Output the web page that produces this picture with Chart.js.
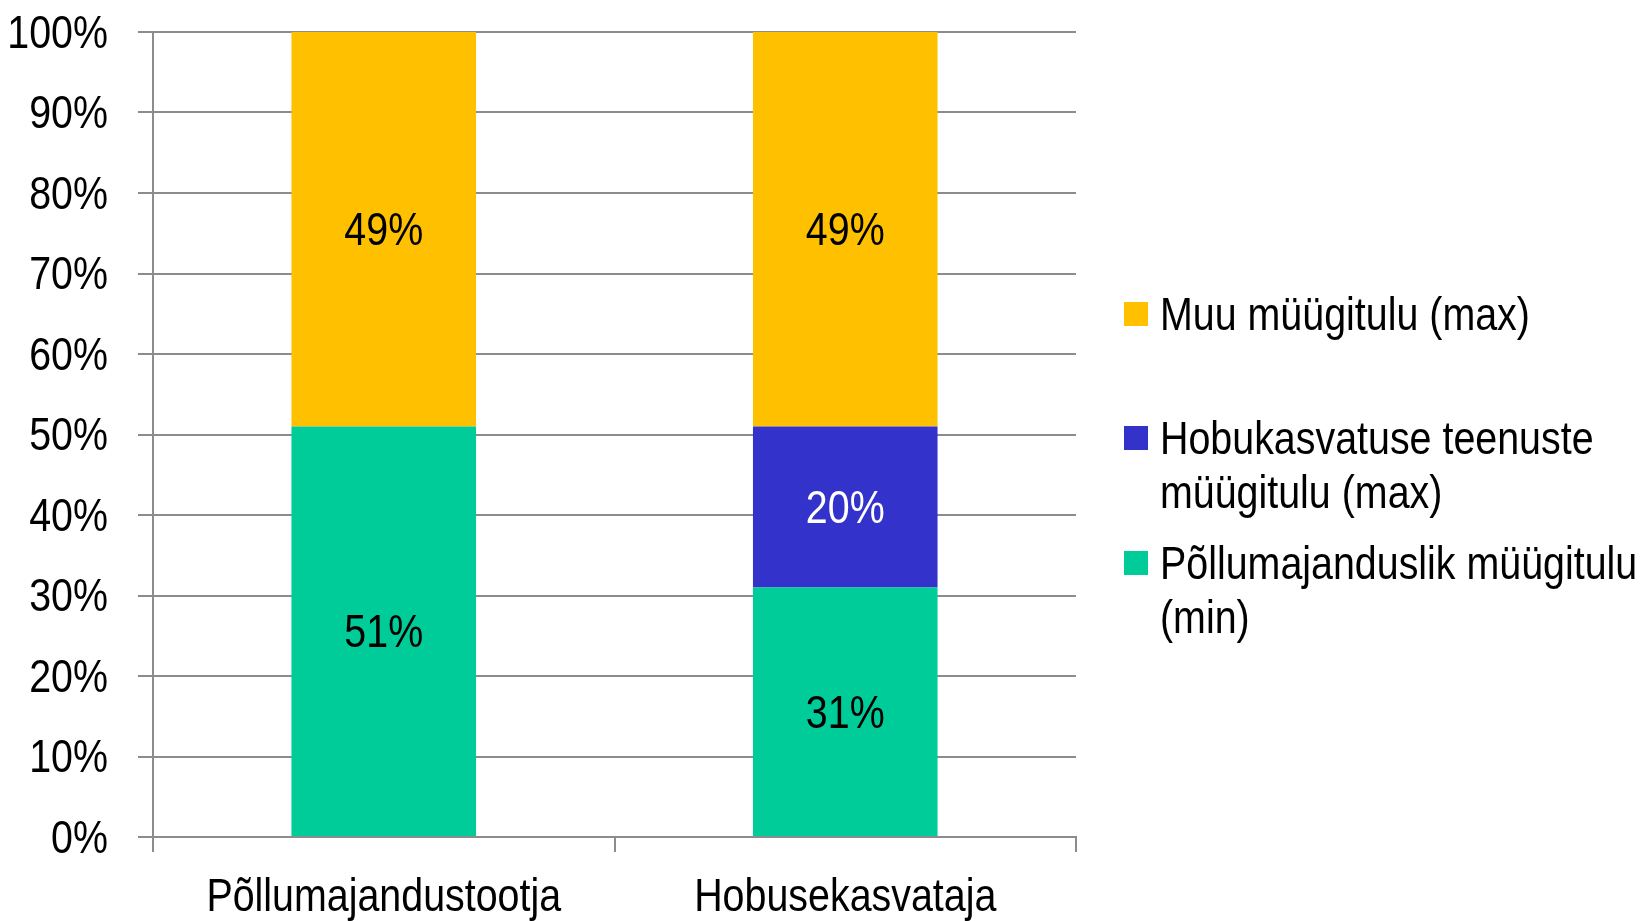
<!DOCTYPE html>
<html>
<head>
<meta charset="utf-8">
<script src="https://cdn.jsdelivr.net/npm/chart.js@4"></script>
<style>
    html, body { margin: 0; padding: 0; background: #fff; }
    #wrap { width: 1641px; height: 921px; }
</style>
</head>
<body>
<div id="wrap"><canvas id="incomeChart" width="1641" height="921"></canvas></div>
<script>
// Chart data
const categories = ['Põllumajandustootja', 'Hobusekasvataja'];
const agriValues = [51, 31];
const horseValues = [0, 20];
const otherValues = [49, 49];
const seriesLabels = [
    'Põllumajanduslik müügitulu (min)',
    'Hobukasvatuse teenuste müügitulu (max)',
    'Muu müügitulu (max)',
];
const legendLines = [
    ['Muu müügitulu (max)'],
    ['Hobukasvatuse teenuste', 'müügitulu (max)'],
    ['Põllumajanduslik müügitulu', '(min)'],
];
const yTicks = [0, 10, 20, 30, 40, 50, 60, 70, 80, 90, 100];

// No narrow font is installed, so text is squeezed horizontally by hand
const FONT = '"Liberation Sans", Arial, sans-serif';
const FONT_SIZE = 47;
const NARROW = 0.838;
const GRID = '#8c8c8c';
const colors = ['#00CC99', '#3333CC', '#FFC000'];
const labelColors = ['#000', '#fff', '#000'];

function narrowText(ctx, text, x, y, align, color) {
    ctx.save();
    ctx.translate(x, y + 3);
    ctx.scale(NARROW, 1);
    ctx.font = `${FONT_SIZE}px ${FONT}`;
    ctx.textAlign = align;
    ctx.textBaseline = 'middle';
    ctx.fillStyle = color;
    ctx.fillText(text, 0, 0);
    ctx.restore();
}

// Axis tick labels, placed from the chart scales
const axisLabels = {
    id: 'axisLabels',
    afterDraw(chart) {
        const ctx = chart.ctx;
        const { x, y } = chart.scales;
        y.ticks.forEach((t) => {
            narrowText(ctx, `${t.value}%`, y.right - 15 - 30, y.getPixelForValue(t.value), 'right', '#000');
        });
        categories.forEach((c, i) => {
            narrowText(ctx, c, x.getPixelForValue(i), x.top + 58, 'center', '#000');
        });
    },
};

// Value labels inside the bars
const barLabels = {
    id: 'barLabels',
    afterDatasetsDraw(chart) {
        const ctx = chart.ctx;
        chart.data.datasets.forEach((ds, i) => {
            const meta = chart.getDatasetMeta(i);
            meta.data.forEach((bar, j) => {
                const v = ds.data[j];
                if (!v) return;
                narrowText(ctx, `${v}%`, bar.x, (bar.y + bar.base) / 2, 'center', labelColors[i]);
            });
        });
    },
};

// Legend on the right, Excel style with wrapped lines
const sideLegend = {
    id: 'sideLegend',
    afterDraw(chart) {
        const ctx = chart.ctx;
        const firstLine = [314, 438, 563];
        const lineH = 54;
        const order = [2, 1, 0];
        order.forEach((dsIndex, k) => {
            const y0 = firstLine[k];
            ctx.fillStyle = colors[dsIndex];
            ctx.fillRect(1124, y0 - 12, 24, 24);
            legendLines[k].forEach((line, n) => {
                narrowText(ctx, line, 1160, y0 + n * lineH, 'left', '#000');
            });
        });
    },
};

document.addEventListener('DOMContentLoaded', () => {
    initChart();
});

function initChart() {
    const ctx = document.getElementById('incomeChart');
    new Chart(ctx.getContext('2d'), {
        type: 'bar',
        data: {
            labels: categories,
            datasets: [agriValues, horseValues, otherValues].map((vals, i) => ({
                label: seriesLabels[i],
                data: vals,
                backgroundColor: colors[i],
                barPercentage: 0.4,
                categoryPercentage: 1,
            })),
        },
        options: {
            responsive: false,
            animation: false,
            layout: { padding: { top: 32, right: 565, left: 0, bottom: 0 } },
            plugins: {
                legend: { display: false },
                tooltip: { enabled: false },
            },
            scales: {
                x: {
                    stacked: true,
                    grid: { drawOnChartArea: false, drawTicks: true, tickLength: 15, color: GRID, lineWidth: 2 },
                    border: { color: GRID, width: 2 },
                    ticks: { display: false },
                    afterFit: (s) => { s.height = 84; },
                },
                y: {
                    stacked: true,
                    min: 0,
                    max: 100,
                    afterBuildTicks: (s) => { s.ticks = yTicks.map((v) => ({ value: v })); },
                    grid: { color: GRID, lineWidth: 2, tickLength: 15 },
                    border: { color: GRID, width: 2 },
                    ticks: { display: false },
                    afterFit: (s) => { s.width = 153; },
                },
            },
        },
        plugins: [barLabels, axisLabels, sideLegend],
    });
}
</script>
</body>
</html>
